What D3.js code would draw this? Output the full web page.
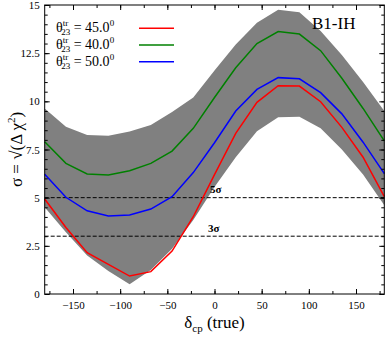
<!DOCTYPE html>
<html>
<head>
<meta charset="utf-8">
<script src="https://cdn.jsdelivr.net/npm/d3@7"></script>
<style>
  body { margin: 0; background: #fff; }
  text { font-family: "Liberation Serif", "DejaVu Serif", serif; }
</style>
</head>
<body>
<div id="chart"></div>
<script>
// delta_cp (true) sample points
const deltaCP = [-180, -157.5, -135, -112.5, -90, -67.5, -45, -22.5, 0, 22.5, 45, 67.5, 90, 112.5, 135, 157.5, 180];

// sigma curves for theta23 true values
const sig45 = [4.93, 3.45, 2.14, 1.54, 0.93, 1.16, 2.23, 4.01, 6.2, 8.34, 9.95, 10.81, 10.79, 9.98, 8.65, 7.1, 5.05];
const sig40 = [7.9, 6.78, 6.23, 6.18, 6.4, 6.78, 7.42, 8.6, 10.2, 11.74, 13.0, 13.62, 13.49, 12.63, 11.2, 9.63, 7.95];
const sig50 = [6.22, 5.02, 4.32, 4.05, 4.1, 4.41, 5.05, 6.3, 7.85, 9.5, 10.62, 11.23, 11.17, 10.45, 9.35, 7.88, 6.25];

// gray band (range over theta23)
const bandHigh = [9.63, 8.68, 8.25, 8.22, 8.43, 8.77, 9.45, 10.2, 11.6, 12.95, 14.08, 14.75, 14.62, 13.65, 12.4, 11.0, 9.5];
const bandLow = [4.5, 3.2, 2.0, 1.2, 0.5, 1.25, 2.35, 3.84, 5.55, 7.1, 8.45, 9.17, 9.2, 8.6, 7.5, 6.2, 4.6];

const xTicks = [-150, -100, -50, 0, 50, 100, 150];
const yTicks = [0, 2.5, 5, 7.5, 10, 12.5, 15];
const sigmaLines = [5, 3];

const width = 390, height = 339;
const margin = {left: 44.7, right: 5.7, top: 5, bottom: 45};

const svg = d3.select("#chart").append("svg")
    .attr("width", width)
    .attr("height", height);

const x = d3.scaleLinear().domain([-180, 180]).range([margin.left, width - margin.right]);
const y = d3.scaleLinear().domain([0, 15]).range([height - margin.bottom, margin.top]);

// band
const area = d3.area()
    .x((d, i) => x(deltaCP[i]))
    .y0((d, i) => y(bandLow[i]))
    .y1(d => y(d));

svg.append("path")
    .datum(bandHigh)
    .attr("fill", "#808080")
    .attr("d", area);

// 5 sigma / 3 sigma lines
svg.selectAll(".sig")
    .data(sigmaLines)
    .join("line")
    .attr("x1", x(-180))
    .attr("x2", x(180))
    .attr("y1", d => y(d))
    .attr("y2", d => y(d))
    .attr("stroke", "#000")
    .attr("stroke-width", 1)
    .attr("stroke-dasharray", "4,2");

svg.append("text").attr("x", 210).attr("y", y(5) - 4.5)
    .attr("font-size", 11).attr("font-weight", "bold").text("5σ");
svg.append("text").attr("x", 208).attr("y", y(3) - 4.5)
    .attr("font-size", 11).attr("font-weight", "bold").text("3σ");

// curves
const line = d3.line()
    .x((d, i) => x(deltaCP[i]))
    .y(d => y(d));

const series = [
  {vals: sig45, color: "#ff0000", label: "45.0"},
  {vals: sig40, color: "#008000", label: "40.0"},
  {vals: sig50, color: "#0000ff", label: "50.0"}
];

svg.selectAll(".curve")
    .data(series)
    .join("path")
    .attr("fill", "none")
    .attr("stroke", d => d.color)
    .attr("stroke-width", 1.5)
    .attr("d", d => line(d.vals));

// axes with inward ticks
const xMinor = d3.range(-175, 180, 25);
const yMinor = d3.range(0, 15.01, 0.5);

function addAxis(axis, tx, ty, labels) {
  const g = svg.append("g").attr("transform", `translate(${tx},${ty})`).call(axis);
  g.select(".domain").remove();
  g.selectAll("line").attr("stroke", "#000");
  if (!labels) g.selectAll("text").remove();
  return g;
}

const bx = addAxis(d3.axisBottom(x).tickValues(xTicks).tickSize(-5).tickPadding(7)
    .tickFormat(d => d < 0 ? "\u2212" + Math.abs(d) : d), 0, y(0), true);
bx.attr("font-family", null);
bx.selectAll("text").attr("font-size", 11).attr("fill", "#000");
addAxis(d3.axisBottom(x).tickValues(xMinor).tickSize(-3), 0, y(0), false);
addAxis(d3.axisTop(x).tickValues(xTicks).tickSize(-5), 0, y(15), false);
addAxis(d3.axisTop(x).tickValues(xMinor).tickSize(-3), 0, y(15), false);

const ly = addAxis(d3.axisLeft(y).tickValues(yTicks).tickSize(-5).tickPadding(5)
    .tickFormat(d => String(d)), x(-180), 0, true);
ly.attr("font-family", null);
ly.selectAll("text").attr("font-size", 11).attr("fill", "#000");
addAxis(d3.axisLeft(y).tickValues(yMinor).tickSize(-3), x(-180), 0, false);
addAxis(d3.axisRight(y).tickValues(yTicks).tickSize(-5), x(180), 0, false);
addAxis(d3.axisRight(y).tickValues(yMinor).tickSize(-3), x(180), 0, false);

// frame
svg.append("rect")
    .attr("x", x(-180)).attr("y", y(15))
    .attr("width", x(180) - x(-180)).attr("height", y(0) - y(15))
    .attr("fill", "none").attr("stroke", "#000").attr("stroke-width", 1);

// legend
const legend = svg.selectAll(".leg")
    .data(series)
    .join("g")
    .attr("transform", (d, i) => `translate(0,${i * 16.7})`);

const lt = legend.append("text").attr("x", 56).attr("y", 32.3).attr("font-size", 14);
lt.append("tspan").text("θ");
lt.append("tspan").attr("font-size", 9).attr("dy", -6).attr("dx", 0).text("tr");
lt.append("tspan").attr("font-size", 9).attr("dx", -7).attr("dy", 9).text("23");
lt.append("tspan").attr("dy", -3).text(d => " = " + d.label);
lt.append("tspan").attr("font-size", 9).attr("dy", -6).text("0");

legend.append("line")
    .attr("x1", 139).attr("x2", 174)
    .attr("y1", 28.3).attr("y2", 28.3)
    .attr("stroke", d => d.color).attr("stroke-width", 1.5);

svg.append("text").attr("x", 312).attr("y", 29.3).attr("font-size", 17).text("B1-IH");

// axis titles
const xt = svg.append("text").attr("x", x(0)).attr("y", 328).attr("text-anchor", "middle").attr("font-size", 17);
xt.append("tspan").text("δ");
xt.append("tspan").attr("font-size", 11).attr("dy", 4).text("cp");
xt.append("tspan").attr("dy", -4).text(" (true)");

const yt = svg.append("text")
    .attr("transform", `translate(22,${y(7.5)}) rotate(-90)`)
    .attr("text-anchor", "middle").attr("font-size", 17);
yt.append("tspan").text("σ = √(Δ χ");
yt.append("tspan").attr("font-size", 11).attr("dy", -7).text("2");
yt.append("tspan").attr("dy", 7).text(")");
</script>
</body>
</html>
